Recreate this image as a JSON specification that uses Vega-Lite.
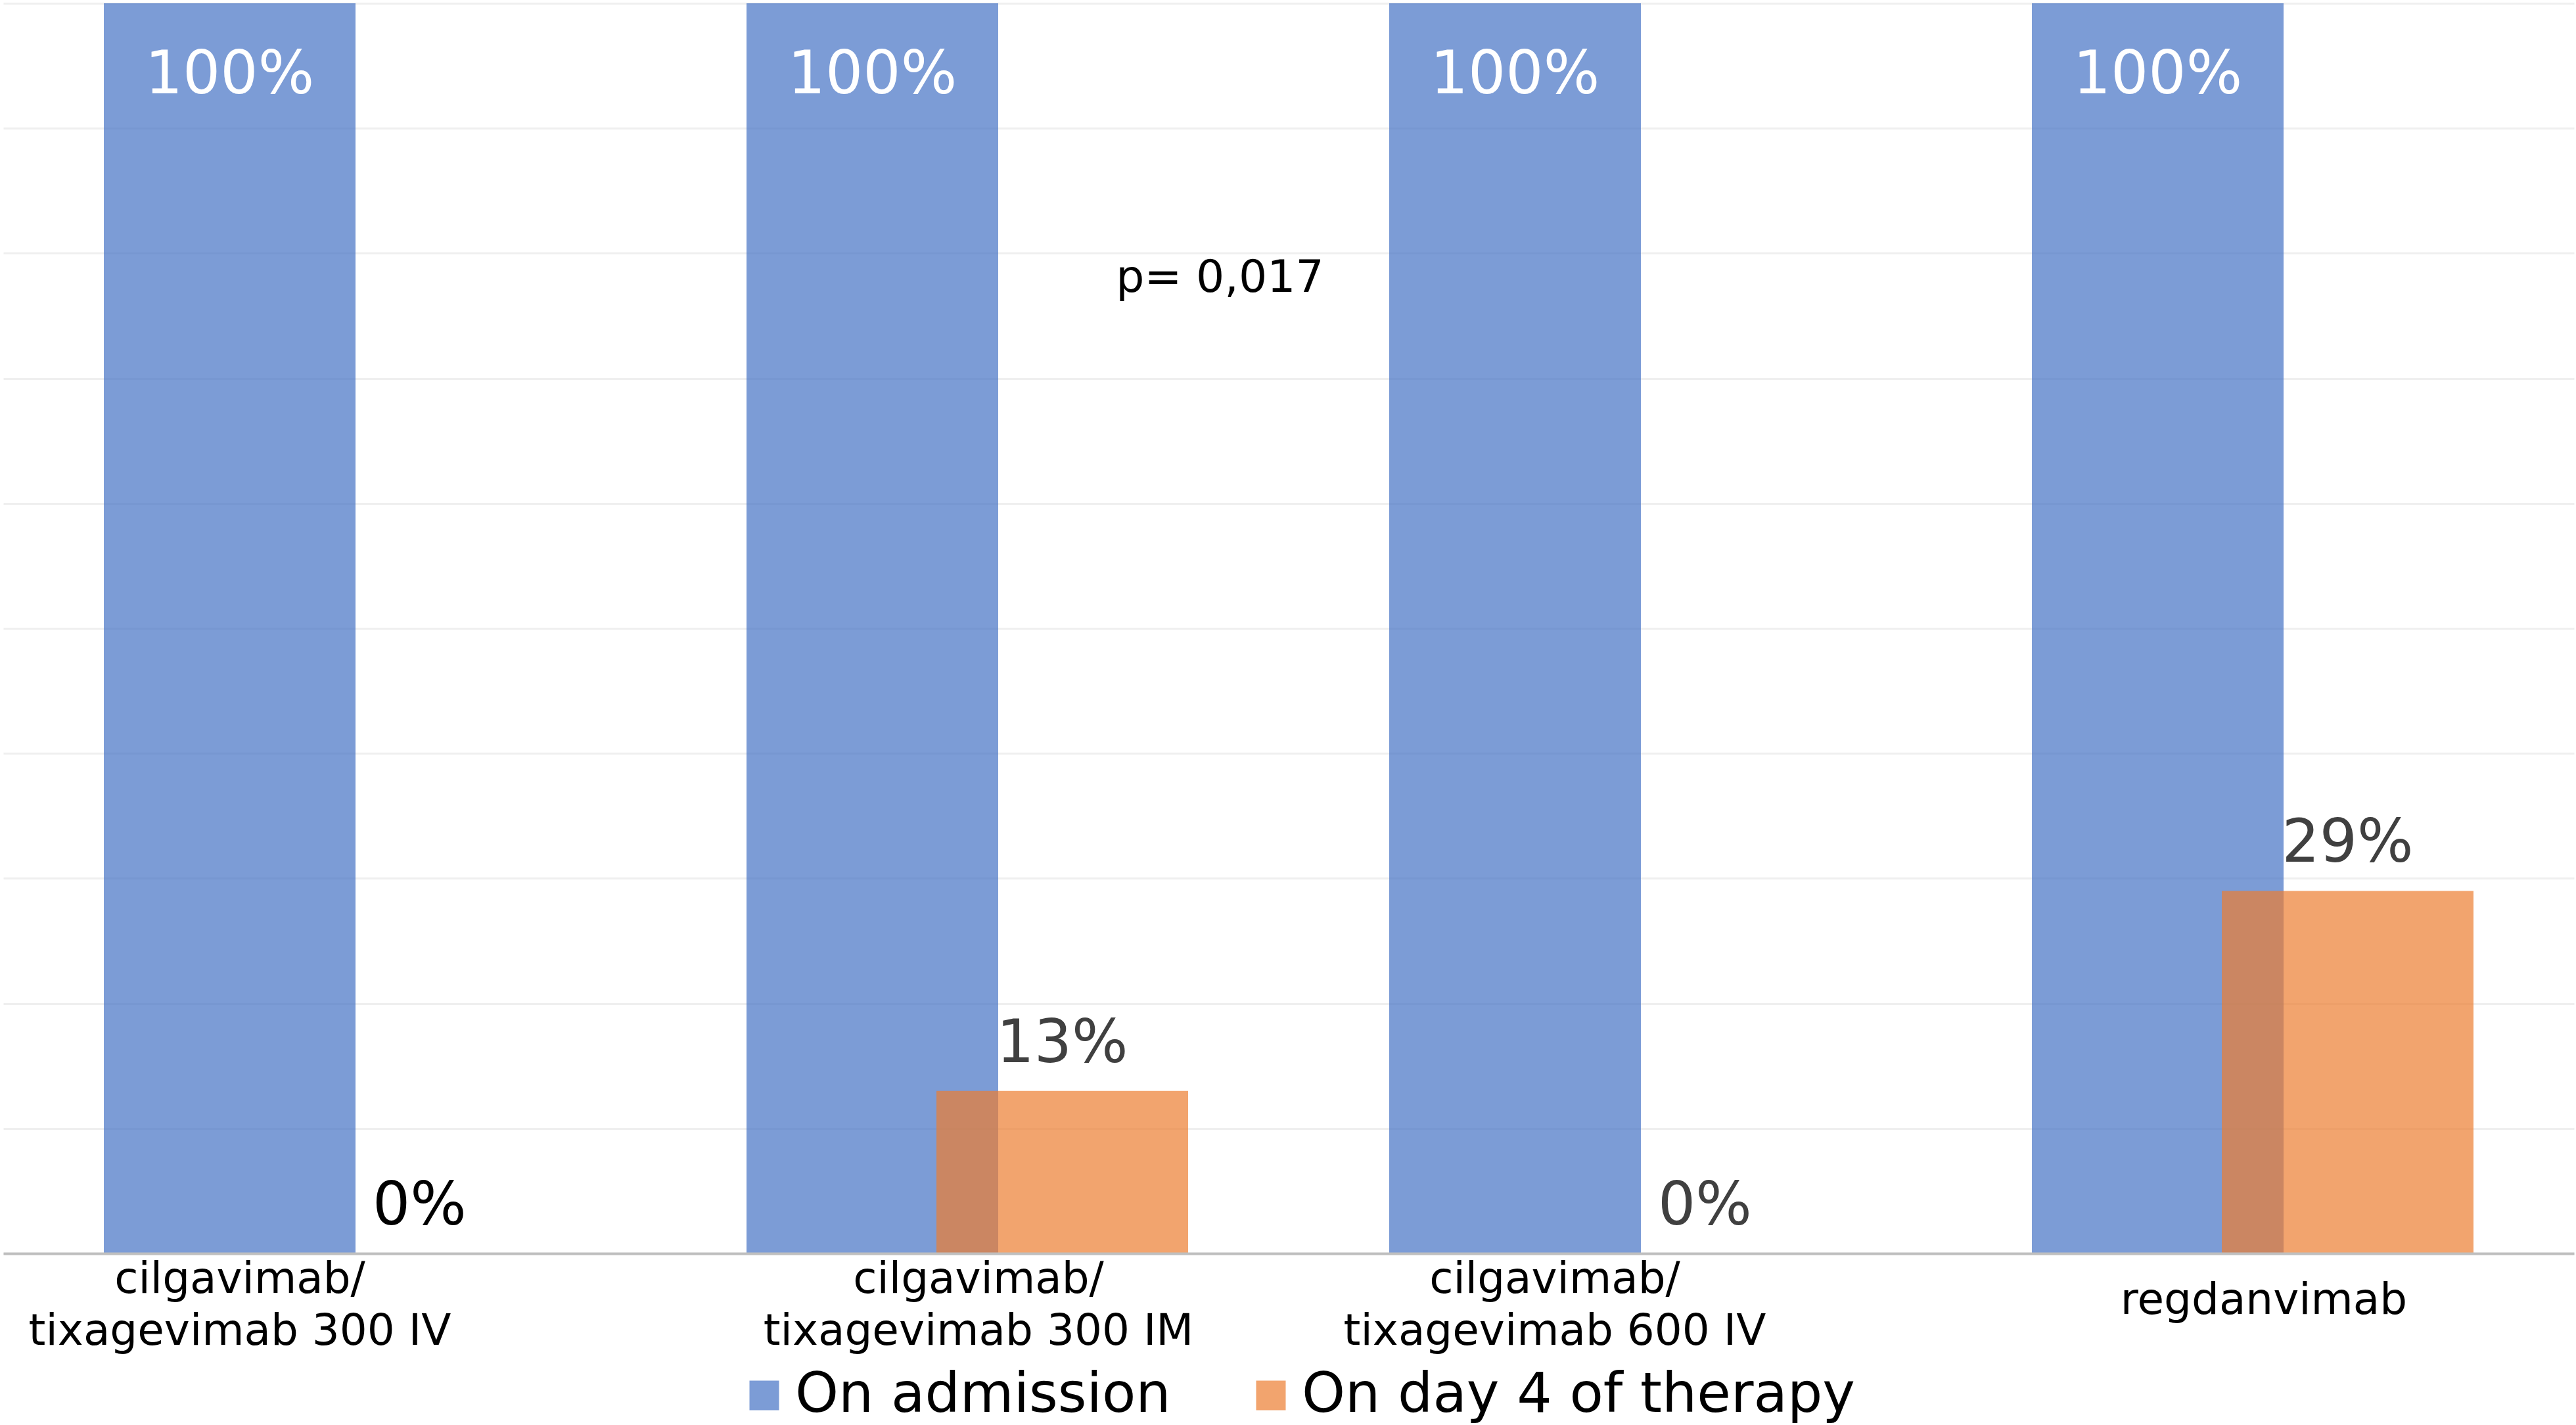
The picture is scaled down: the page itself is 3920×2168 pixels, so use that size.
{
  "$schema": "https://vega.github.io/schema/vega-lite/v6.json",
  "width": 3912,
  "height": 1902,
  "autosize": {"type": "none"},
  "padding": {"left": 5, "top": 5, "right": 3, "bottom": 261},
  "background": "white",
  "config": {"view": {"stroke": null}, "font": "DejaVu Sans"},
  "data": {
    "values": [
      {"group": "cilgavimab/ tixagevimab 300 IV", "series": "On admission", "value": 1.0},
      {"group": "cilgavimab/ tixagevimab 300 IV", "series": "On day 4 of therapy", "value": 0.0},
      {"group": "cilgavimab/ tixagevimab 300 IM", "series": "On admission", "value": 1.0},
      {"group": "cilgavimab/ tixagevimab 300 IM", "series": "On day 4 of therapy", "value": 0.13},
      {"group": "cilgavimab/ tixagevimab 600 IV", "series": "On admission", "value": 1.0},
      {"group": "cilgavimab/ tixagevimab 600 IV", "series": "On day 4 of therapy", "value": 0.0},
      {"group": "regdanvimab", "series": "On admission", "value": 1.0},
      {"group": "regdanvimab", "series": "On day 4 of therapy", "value": 0.29}
    ]
  },
  "encoding": {
    "x": {
      "field": "group",
      "type": "nominal",
      "sort": null,
      "scale": {"paddingInner": 0, "paddingOuter": 0},
      "axis": {
        "title": null,
        "labelAngle": 0,
        "labelFontSize": 66,
        "labelColor": "black",
        "labelFont": "DejaVu Sans",
        "ticks": false,
        "domainColor": "#BFBFBF",
        "domainWidth": 4,
        "labelPadding": {"condition": {"test": "datum.value === 'regdanvimab'", "value": 71}, "value": 39},
        "labelBaseline": "middle",
        "labelLineHeight": 79,
        "labelLimit": 0,
        "labelOffset": {
          "condition": [
            {"test": "datum.value === 'cilgavimab/ tixagevimab 300 IV'", "value": -129},
            {"test": "datum.value === 'cilgavimab/ tixagevimab 600 IV'", "value": -84}
          ],
          "value": 17
        },
        "grid": false,
        "zindex": 1,
        "labelExpr": "indexof(datum.label, '/') > 0 ? [slice(datum.label, 0, indexof(datum.label, '/') + 1), slice(datum.label, indexof(datum.label, '/') + 2)] : datum.label"
      }
    },
    "y": {
      "field": "value",
      "type": "quantitative",
      "scale": {"domain": [0, 1], "nice": false},
      "axis": {
        "title": null,
        "labels": false,
        "ticks": false,
        "domain": false,
        "grid": true,
        "gridColor": "#EFEFEF",
        "gridWidth": 3,
        "values": [0, 0.1, 0.2, 0.3, 0.4, 0.5, 0.6, 0.7, 0.8, 0.9, 1.0]
      }
    }
  },
  "layer": [
    {
      "transform": [{"filter": "datum.series === 'On admission'"}],
      "mark": {"type": "bar", "width": 383, "xOffset": -144.5, "opacity": 0.7},
      "encoding": {
        "color": {
          "field": "series",
          "type": "nominal",
          "scale": {"domain": ["On admission", "On day 4 of therapy"], "range": ["#4472C4", "#ED7D31"]},
          "legend": {
            "orient": "none",
            "legendX": 1116,
            "legendY": 2076,
            "direction": "horizontal",
            "title": null,
            "symbolType": "square",
            "symbolSize": 2025,
            "symbolOpacity": 0.7,
            "symbolStrokeWidth": 0,
            "labelFontSize": 84,
            "labelColor": "black",
            "labelOffset": 5,
            "columnPadding": 110,
            "labelLimit": 0
          }
        }
      }
    },
    {
      "transform": [{"filter": "datum.series !== 'On admission'"}],
      "mark": {"type": "bar", "width": 383, "xOffset": 144.5, "opacity": 0.7},
      "encoding": {
        "color": {
          "field": "series",
          "type": "nominal",
          "scale": {"domain": ["On admission", "On day 4 of therapy"], "range": ["#4472C4", "#ED7D31"]}
        }
      }
    },
    {
      "transform": [{"filter": "datum.series === 'On admission'"}],
      "mark": {"type": "text", "xOffset": -144.5, "dy": 137, "baseline": "alphabetic", "fontSize": 90, "color": "white"},
      "encoding": {"text": {"field": "value", "format": ".0%"}}
    },
    {
      "transform": [{"filter": "datum.series !== 'On admission'"}],
      "mark": {"type": "text", "xOffset": 144.5, "dy": -44, "baseline": "alphabetic", "fontSize": 90},
      "encoding": {
        "text": {"field": "value", "format": ".0%"},
        "color": {"condition": {"test": "datum.group === 'cilgavimab/ tixagevimab 300 IV'", "value": "#000000"}, "value": "#404040"}
      }
    },
    {
      "transform": [{"filter": "datum.group === 'cilgavimab/ tixagevimab 300 IM' && datum.series === 'On admission'"}],
      "mark": {"type": "text", "text": "p= 0,017", "fontSize": 68, "baseline": "alphabetic", "color": "black", "xOffset": 384.5},
      "encoding": {
        "y": {"datum": 0.769}
      }
    }
  ]
}
